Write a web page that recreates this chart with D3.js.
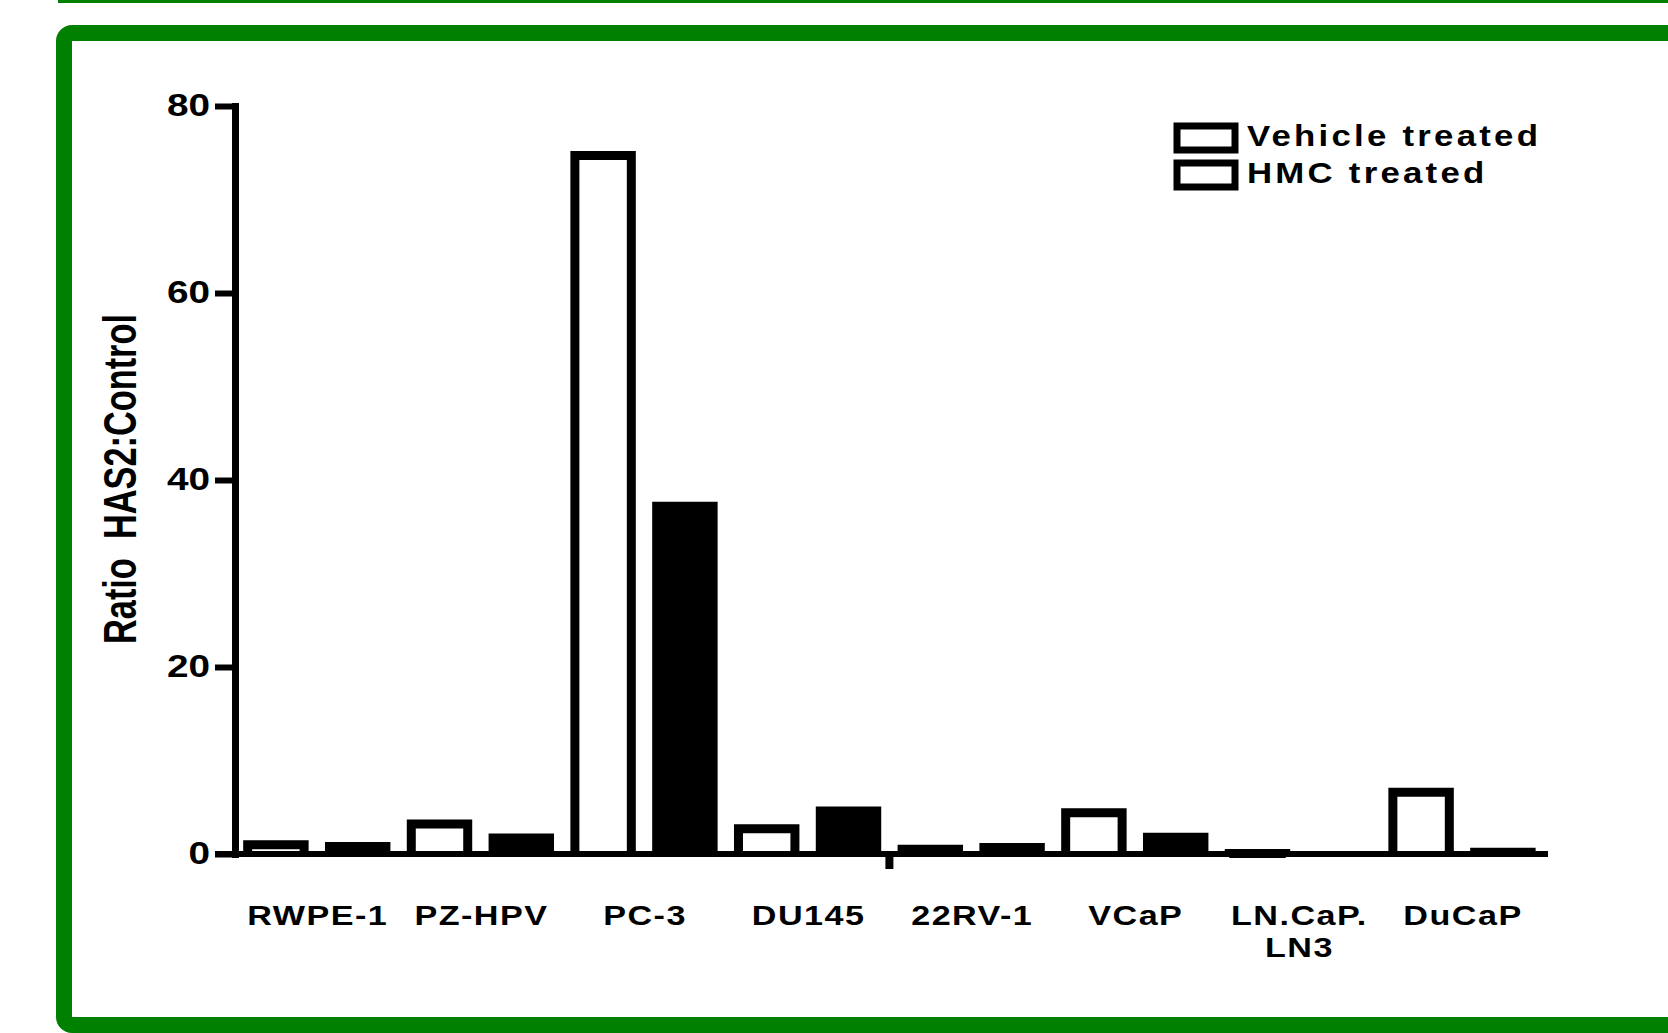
<!DOCTYPE html>
<html>
<head>
<meta charset="utf-8">
<script src="https://cdn.jsdelivr.net/npm/d3@7"></script>
<style>
    body { margin: 0; background: #fff; }
    text { font-family: "Liberation Sans", Arial, sans-serif; font-weight: bold; fill: #000; }
</style>
</head>
<body>
<svg width="1668" height="1033"></svg>
<script>
// values
var categories = ["RWPE-1", "PZ-HPV", "PC-3", "DU145", "22RV-1", "VCaP", "LN.CaP.|LN3", "DuCaP"];
var vehicleValues = [1.0, 3.2, 74.7, 2.7, 0.5, 4.4, 0.05, 6.6];
var hmcValues = [0.8, 1.7, 37.2, 4.6, 0.7, 1.8, 0, 0.2];
var seriesNames = ["Vehicle treated", "HMC treated"];
var yTicks = [0, 20, 40, 60, 80];
var yLabel = "Ratio  HAS2:Control";

var svg = d3.select("svg"),
    green = "#008000",
    barStroke = 9;

// green frame around the panel
svg.append("rect")
    .attr("x", 58).attr("y", 0)
    .attr("width", 1610).attr("height", 3)
    .attr("fill", green);
svg.append("rect")
    .attr("x", 64).attr("y", 33)
    .attr("width", 1668).attr("height", 992)
    .attr("rx", 8)
    .attr("fill", "none")
    .attr("stroke", green)
    .attr("stroke-width", 16);

var x0 = d3.scaleBand()
    .domain(categories)
    .range([235, 1543.8]);

var x1 = d3.scaleBand()
    .domain([0, 1])
    .range([0, x0.bandwidth()])
    .paddingInner(0.2)
    .paddingOuter(0.1);

var y = d3.scaleLinear()
    .domain([0, 80])
    .range([854, 106]);

var rows = [];
categories.forEach(function (c, i) {
    rows.push({cat: c, s: 0, value: vehicleValues[i]});
    rows.push({cat: c, s: 1, value: hmcValues[i]});
});

// bars: open at the bottom, the axis covers that edge
svg.append("g")
    .selectAll("path")
    .data(rows.filter(function (d) { return d.value > 0; }))
    .enter().append("path")
    .attr("d", function (d) {
        var left = x0(d.cat) + x1(d.s) + barStroke / 2,
            right = x0(d.cat) + x1(d.s) + x1.bandwidth() - barStroke / 2;
        return "M" + left + "," + y(0) + "V" + y(d.value) + "H" + right + "V" + y(0);
    })
    .attr("fill", function (d) { return d.s === 0 ? "#fff" : "#000"; })
    .attr("stroke", "#000")
    .attr("stroke-width", barStroke);

// y axis
var yAxis = svg.append("g")
    .attr("transform", "translate(235,0)")
    .call(d3.axisLeft(y).tickValues(yTicks).tickSize(20).tickSizeOuter(0).tickPadding(5));
yAxis.select(".domain")
    .attr("stroke", "#000")
    .attr("stroke-width", 7)
    .attr("stroke-linecap", "square");
yAxis.selectAll(".tick line")
    .attr("stroke", "#000")
    .attr("stroke-width", 6);
yAxis.selectAll(".tick text")
    .attr("font-size", 31)
    .attr("font-family", "Liberation Sans, Arial, sans-serif")
    .attr("font-weight", "bold")
    .attr("x", -25 / 1.25)
    .attr("transform", "scale(1.25,1)");

// x axis line and the single tick between DU145 and 22RV-1
svg.append("line")
    .attr("x1", 215).attr("x2", 1548)
    .attr("y1", y(0)).attr("y2", y(0))
    .attr("stroke", "#000")
    .attr("stroke-width", 6);
svg.append("line")
    .attr("x1", x0(categories[4])).attr("x2", x0(categories[4]))
    .attr("y1", y(0)).attr("y2", y(0) + 15)
    .attr("stroke", "#000")
    .attr("stroke-width", 8);

// category labels
var catLabels = svg.append("g")
    .selectAll("text")
    .data(categories)
    .enter().append("text")
    .attr("transform", function (d) {
        return "translate(" + (x0(d) + x0.bandwidth() / 2 + 1) + ",925) scale(1.22,1)";
    })
    .attr("text-anchor", "middle")
    .attr("font-size", 28)
    .attr("letter-spacing", 1.2);
catLabels.selectAll("tspan")
    .data(function (d) { return d.split("|"); })
    .enter().append("tspan")
    .attr("x", 0)
    .attr("dy", function (d, i) { return i === 0 ? 0 : 32; })
    .text(function (d) { return d; });

// y axis title
svg.append("text")
    .attr("transform", "translate(136,479) rotate(-90)")
    .attr("text-anchor", "middle")
    .attr("font-size", 47)
    .attr("textLength", 330)
    .attr("lengthAdjust", "spacingAndGlyphs")
    .style("white-space", "pre")
    .text(yLabel);

// legend (both keys drawn as open boxes, as in the figure)
var legend = svg.append("g")
    .selectAll("g")
    .data(seriesNames)
    .enter().append("g")
    .attr("transform", function (d, i) { return "translate(1177," + (126 + i * 37) + ")"; });
legend.append("rect")
    .attr("width", 58).attr("height", 24)
    .attr("fill", "#fff")
    .attr("stroke", "#000")
    .attr("stroke-width", 7);
legend.append("text")
    .attr("transform", "translate(70,20) scale(1.2,1)")
    .attr("font-size", 29)
    .attr("letter-spacing", 2.7)
    .text(function (d) { return d; });
</script>
</body>
</html>
